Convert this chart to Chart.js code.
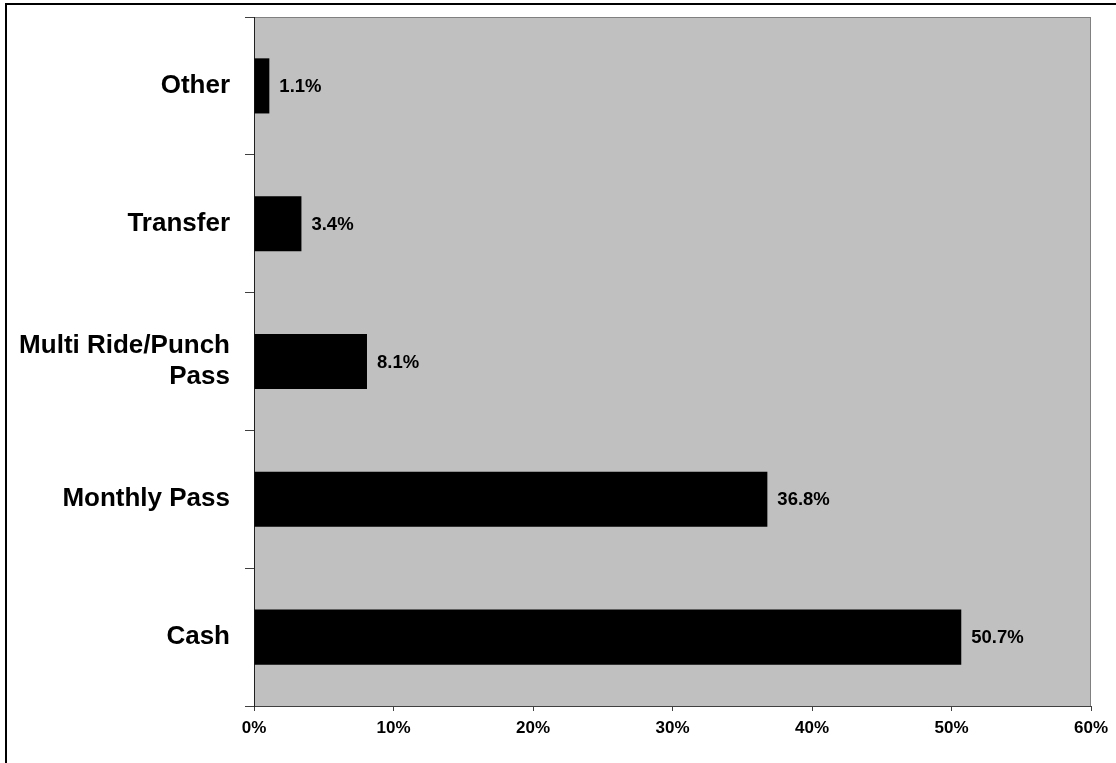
<!DOCTYPE html>
<html>
<head>
<meta charset="utf-8">
<script src="https://cdn.jsdelivr.net/npm/chart.js@4/dist/chart.umd.min.js"></script>
<style>
    html, body { margin: 0; padding: 0; background: #fff; overflow: hidden; }
    #wrap { position: relative; width: 1116px; height: 763px; }
</style>
</head>
<body>
<div id="wrap"><canvas id="chart" width="1116" height="763"></canvas></div>
<script>
var CATEGORIES = ['Other', 'Transfer', ['Multi Ride/Punch', 'Pass'], 'Monthly Pass', 'Cash'];
var SHARES = [1.1, 3.4, 8.1, 36.8, 50.7];
var X_TICKS = [0, 10, 20, 30, 40, 50, 60];

var FONT = "Arial, 'Liberation Sans', sans-serif";

//sfondo grigio dell'area del grafico + cornice esterna
var plotBackground = {
    id: 'plotBackground',
    beforeDraw: function (chart) {
        var ctx = chart.ctx;
        var a = chart.chartArea;
        ctx.save();
        ctx.fillStyle = '#fff';
        ctx.fillRect(0, 0, chart.width, chart.height);
        //cornice esterna (tagliata a destra e in basso)
        ctx.strokeStyle = '#000';
        ctx.lineWidth = 2;
        ctx.strokeRect(6, 4, chart.width + 20, chart.height + 20);
        ctx.fillStyle = '#c0c0c0';
        ctx.fillRect(a.left, a.top, a.right - a.left, a.bottom - a.top);
        ctx.strokeStyle = '#808080';
        ctx.lineWidth = 1;
        ctx.strokeRect(a.left + 0.5, a.top + 0.5, a.right - a.left - 1, a.bottom - a.top);
        ctx.restore();
    }
};

//etichette con i valori a destra delle barre
var barLabels = {
    id: 'barLabels',
    afterDatasetsDraw: function (chart) {
        var ctx = chart.ctx;
        var meta = chart.getDatasetMeta(0);
        ctx.save();
        ctx.font = 'bold 18.5px ' + FONT;
        ctx.fillStyle = '#000';
        ctx.textAlign = 'left';
        ctx.textBaseline = 'middle';
        meta.data.forEach(function (bar, i) {
            ctx.fillText(SHARES[i].toFixed(1) + '%', bar.x + 10, bar.y + 1);
        });
        ctx.restore();
    }
};

var myChart = new Chart(document.getElementById('chart'), {
    type: 'bar',
    data: {
        labels: CATEGORIES,
        datasets: [{
            data: SHARES,
            backgroundColor: '#000',
            borderWidth: 0,
            barPercentage: 0.4,
            categoryPercentage: 1
        }]
    },
    options: {
        indexAxis: 'y',
        responsive: false,
        animation: false,
        devicePixelRatio: 1,
        layout: { padding: { top: 17, right: 25, bottom: 0, left: 0 } },
        plugins: {
            legend: { display: false },
            tooltip: { enabled: false }
        },
        scales: {
            x: {
                min: 0,
                max: 60,
                afterBuildTicks: function (axis) {
                    axis.ticks = X_TICKS.map(function (v) { return { value: v }; });
                },
                afterFit: function (axis) {
                    axis.height = 57;
                    axis.paddingLeft = 0;
                    axis.paddingRight = 0;
                },
                grid: {
                    drawOnChartArea: false,
                    tickLength: 5,
                    color: '#404040'
                },
                border: { color: '#404040', width: 1 },
                ticks: {
                    color: '#000',
                    padding: 7,
                    maxRotation: 0,
                    font: { family: FONT, size: 17, weight: 'bold' },
                    callback: function (v) { return v + '%'; }
                }
            },
            y: {
                afterFit: function (axis) {
                    axis.width = 254;
                    axis.paddingTop = 0;
                    axis.paddingBottom = 0;
                },
                grid: {
                    drawOnChartArea: false,
                    offset: true,
                    tickLength: 9,
                    color: '#404040'
                },
                border: { color: '#202020', width: 1 },
                ticks: {
                    color: '#000',
                    padding: 15,
                    font: { family: FONT, size: 26, weight: 'bold', lineHeight: 1.2 }
                }
            }
        }
    },
    plugins: [plotBackground, barLabels]
});
</script>
</body>
</html>
